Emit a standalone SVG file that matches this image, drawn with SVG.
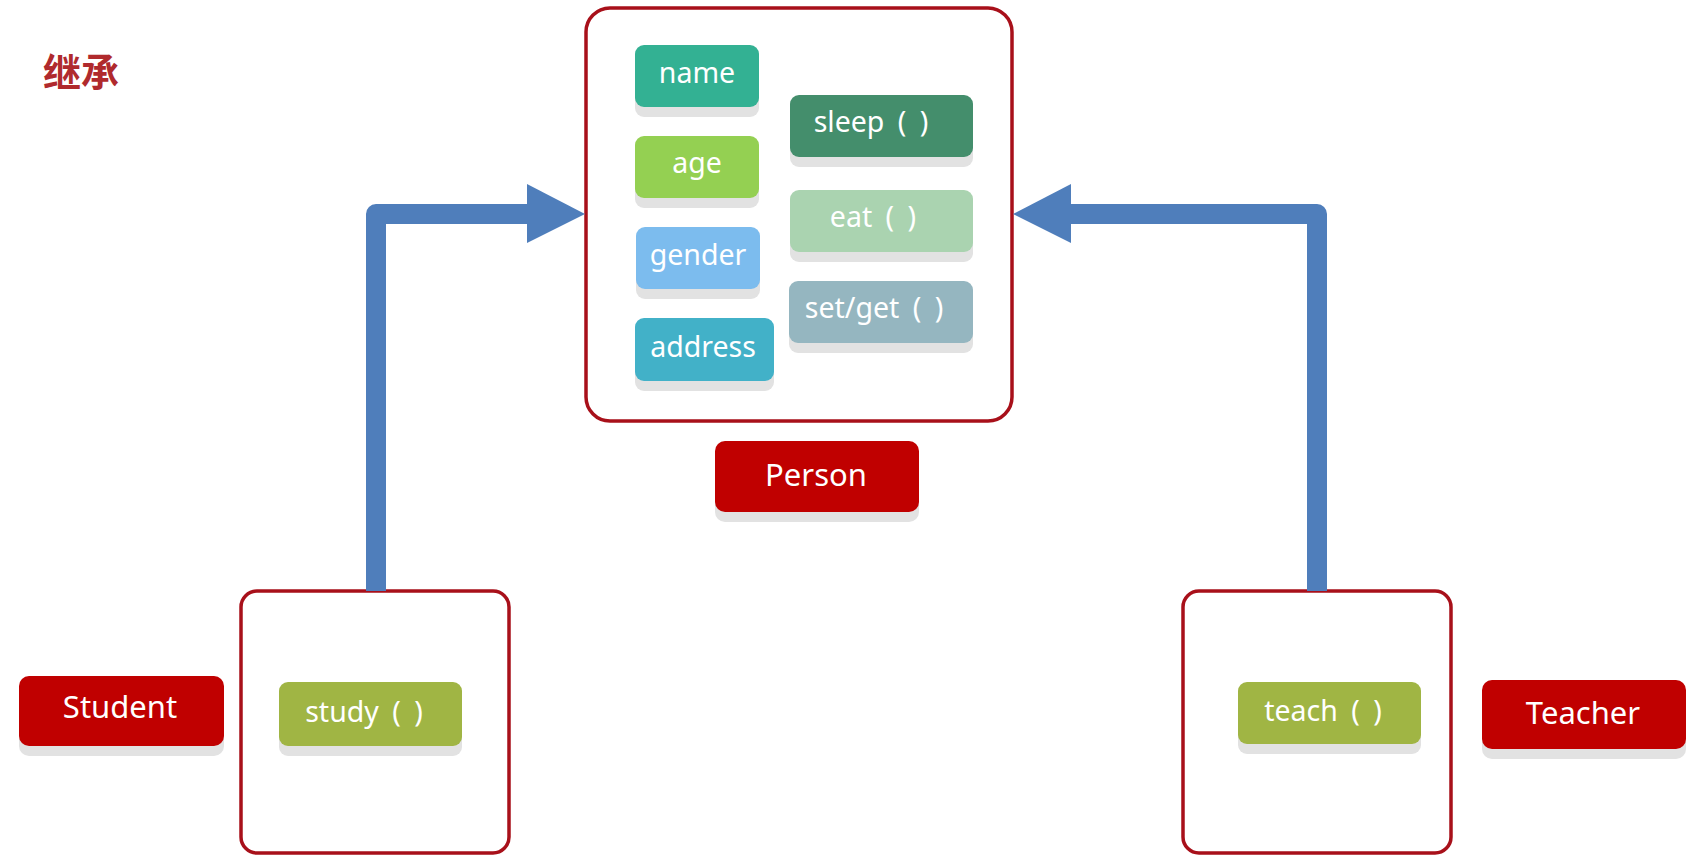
<svg xmlns="http://www.w3.org/2000/svg" width="1696" height="867" viewBox="0 0 1696 867">
<style>
.t{font-family:"Noto Sans","Open Sans","Liberation Sans",sans-serif;fill:#fff;text-anchor:middle}
.s{font-size:28.5px}
.l{font-size:31px}
.sh{fill:#e2e2e2}
.ct{fill:#fff;stroke:#a8101a;stroke-width:3.5}
.lab{fill:#c00000}
.conn{fill:none;stroke:#4f7ebb;stroke-width:20;stroke-linejoin:round}
</style>
<rect width="1696" height="867" fill="#fff"/>
<text x="43" y="86" font-family="'Noto Sans CJK SC',sans-serif" font-size="38" font-weight="bold" fill="#b02a2d">继承</text>

<g id="person-container"><rect class="ct" x="586" y="8" width="426" height="413" rx="24"/></g>
<g id="student-container"><rect class="ct" x="241" y="591" width="268" height="262" rx="16"/></g>
<g id="teacher-container"><rect class="ct" x="1183" y="591" width="268" height="262" rx="16"/></g>

<g id="connectors">
<path class="conn" d="M376 591 V214 H530"/>
<polygon fill="#4f7ebb" points="527,184 585,214 527,243"/>
<path class="conn" d="M1317 591 V214 H1068"/>
<polygon fill="#4f7ebb" points="1071,184 1013,214 1071,243"/>
</g>

<g id="name"><rect class="sh" x="635" y="55" width="124" height="62" rx="9"/><rect fill="#33b193" x="635" y="45" width="124" height="62" rx="9"/><text class="t s" x="697" y="83">name</text></g>
<g id="age"><rect class="sh" x="635" y="146" width="124" height="62" rx="9"/><rect fill="#94d052" x="635" y="136" width="124" height="62" rx="9"/><text class="t s" x="697" y="173">age</text></g>
<g id="gender"><rect class="sh" x="636" y="237" width="124" height="62" rx="9"/><rect fill="#7cbcee" x="636" y="227" width="124" height="62" rx="9"/><text class="t s" x="698" y="265">gender</text></g>
<g id="address"><rect class="sh" x="635" y="328" width="139" height="63" rx="9"/><rect fill="#42b1c8" x="635" y="318" width="139" height="63" rx="9"/><text class="t s" x="703" y="357">address</text></g>
<g id="sleep"><rect class="sh" x="790" y="105" width="183" height="62" rx="9"/><rect fill="#448e6c" x="790" y="95" width="183" height="62" rx="9"/><text class="t s" x="871" y="132" word-spacing="6">sleep ( )</text></g>
<g id="eat"><rect class="sh" x="790" y="200" width="183" height="62" rx="9"/><rect fill="#aad3b0" x="790" y="190" width="183" height="62" rx="9"/><text class="t s" x="873" y="227" word-spacing="6">eat ( )</text></g>
<g id="setget"><rect class="sh" x="789" y="291" width="184" height="62" rx="9"/><rect fill="#95b6c0" x="789" y="281" width="184" height="62" rx="9"/><text class="t s" x="874" y="318" word-spacing="6">set/get ( )</text></g>

<g id="person"><rect class="sh" x="715" y="451" width="204" height="71" rx="10"/><rect class="lab" x="715" y="441" width="204" height="71" rx="10"/><text class="t l" x="816" y="486">Person</text></g>
<g id="student"><rect class="sh" x="19" y="686" width="205" height="70" rx="10"/><rect class="lab" x="19" y="676" width="205" height="70" rx="10"/><text class="t l" x="120" y="718">Student</text></g>
<g id="study"><rect class="sh" x="279" y="692" width="183" height="64" rx="9"/><rect fill="#a0b544" x="279" y="682" width="183" height="64" rx="9"/><text class="t s" x="364" y="722" word-spacing="6">study ( )</text></g>
<g id="teach"><rect class="sh" x="1238" y="692" width="183" height="62" rx="9"/><rect fill="#a0b544" x="1238" y="682" width="183" height="62" rx="9"/><text class="t s" x="1323" y="721" word-spacing="6">teach ( )</text></g>
<g id="teacher"><rect class="sh" x="1482" y="690" width="204" height="69" rx="10"/><rect class="lab" x="1482" y="680" width="204" height="69" rx="10"/><text class="t l" x="1583" y="724">Teacher</text></g>
</svg>
